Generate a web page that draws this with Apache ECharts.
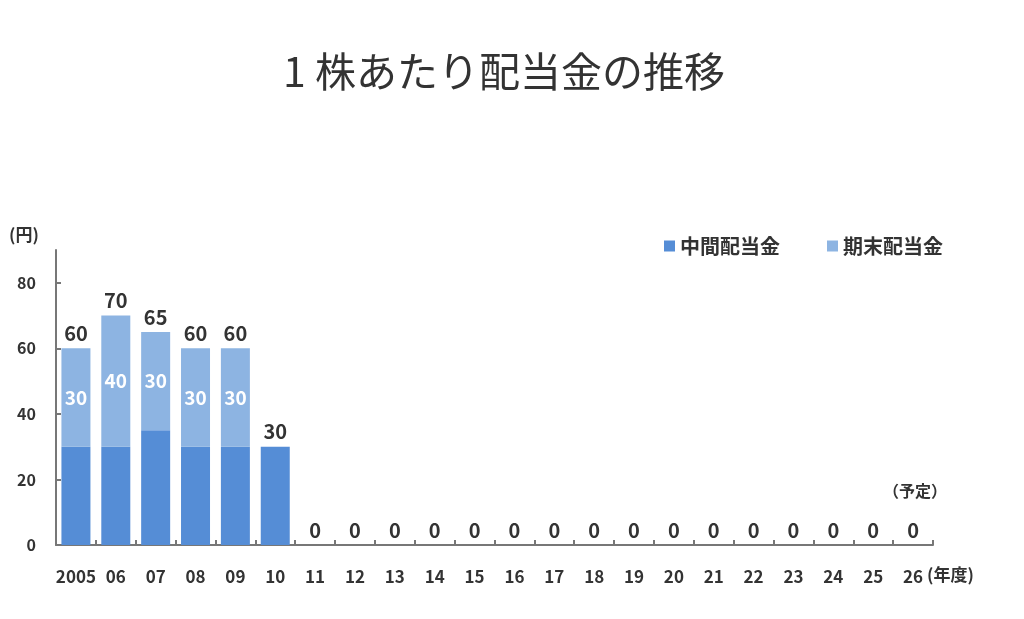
<!DOCTYPE html>
<html><head><meta charset="utf-8">
<script src="https://cdn.jsdelivr.net/npm/echarts@6/dist/echarts.min.js"></script>
<style>html,body{margin:0;padding:0;background:#fff}#c{width:1024px;height:619px}</style>
</head><body><div id="c"></div>
<script>
var categories = ['2005','06','07','08','09','10','11','12','13','14','15','16','17','18','19','20','21','22','23','24','25','26'];
var interim = [30,30,35,30,30,30,0,0,0,0,0,0,0,0,0,0,0,0,0,0,0,0];
var yearEnd = [30,40,30,30,30,0,0,0,0,0,0,0,0,0,0,0,0,0,0,0,0,0];
var yTicks = [0,20,40,60,80];
var totals = interim.map(function(v,i){return v + yearEnd[i];});
var FONT = '"Noto Sans CJK JP", "Noto Sans", sans-serif';
var chart = echarts.init(document.getElementById('c'));
chart.setOption({
  animation:false,
  textStyle:{fontFamily:FONT},
  title:{text:'1 株あたり配当金の推移', left:278, top:46, textStyle:{fontSize:41, fontWeight:'normal', color:'#333', fontFamily:FONT}},
  legend:{data:['中間配当金','期末配当金'], right:76, top:231, icon:'rect', itemWidth:11, itemHeight:11, itemGap:47,
    textStyle:{fontSize:20, fontWeight:600, color:'#333', fontFamily:FONT}},
  grid:{left:56, right:91, top:250, bottom:74},
  xAxis:{type:'category', data:categories,
    axisLine:{lineStyle:{color:'#777', width:2}},
    axisTick:{show:true, inside:true, length:5, interval:0, lineStyle:{color:'#777', width:2}},
    axisLabel:{interval:0, margin:23, fontSize:17, fontWeight:600, color:'#333', fontFamily:FONT}},
  yAxis:{type:'value', min:0, max:90, interval:10,
    splitLine:{show:false},
    axisLine:{show:true, lineStyle:{color:'#777', width:2}},
    axisTick:{show:true, inside:true, length:5, customValues:[20,40,60,80], lineStyle:{color:'#777', width:2}},
    axisLabel:{customValues:yTicks, margin:20, fontSize:16, fontWeight:600, color:'#333', fontFamily:FONT}},
  graphic:[
    {type:'text', left:9, top:226, style:{text:'(円)', fill:'#333', font:'600 17px '+FONT}},
    {type:'text', left:927, top:566, style:{text:'(年度)', fill:'#333', font:'600 17px '+FONT}},
    {type:'text', left:883, top:483, style:{text:'（予定）', fill:'#333', font:'600 16px '+FONT}}
  ],
  series:[
    {name:'中間配当金', type:'bar', stack:'a', data:interim, barWidth:29, itemStyle:{color:'#558DD6'}},
    {name:'期末配当金', type:'bar', stack:'a', data:yearEnd, barWidth:29, itemStyle:{color:'#8DB4E2'},
      label:{show:true, position:'inside', color:'#fff', fontSize:19, fontWeight:600, fontFamily:FONT,
        formatter:function(p){return p.value>0?String(p.value):'';}}},
    {name:'total', type:'bar', stack:'a', data:totals.map(function(){return 0;}), barWidth:29, itemStyle:{color:'transparent'},
      label:{show:true, position:'top', distance:5, color:'#333', fontSize:20, fontWeight:600, fontFamily:FONT,
        formatter:function(p){return String(totals[p.dataIndex]);}}}
  ]
});
</script></body></html>
